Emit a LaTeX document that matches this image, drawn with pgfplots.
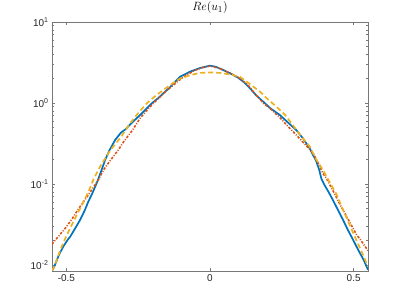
\documentclass[border=0pt]{standalone}
\usepackage{fontspec}
\setmainfont{Liberation Sans}
\usepackage{pgfplots}
\pgfplotsset{compat=1.18}
\definecolor{mblue}{RGB}{0,114,189}
\definecolor{mred}{RGB}{217,83,25}
\definecolor{myellow}{RGB}{237,177,32}
\definecolor{axgray}{RGB}{120,120,120}
\definecolor{txgray}{RGB}{38,38,38}
\begin{document}
\begin{tikzpicture}
\path[use as bounding box] (0,0) rectangle (407bp,305bp);
\begin{axis}[
  at={(52bp,34bp)}, anchor=south west,
  scale only axis, width=316bp, height=249bp,
  ymode=log,
  xmin=-0.55, xmax=0.55, ymin=0.0084, ymax=10,
  xtick={-0.5,0,0.5},
  xticklabels={-0.5,0,0.5},
  ytick={0.01,0.1,1,10},
  yticklabels={10\textsuperscript{-2},10\textsuperscript{-1},10\textsuperscript{0},10\textsuperscript{1}},
  tick label style={font=\fontsize{10}{12}\selectfont, text=txgray},
  axis line style={axgray, line width=0.5bp},
  every tick/.style={axgray, line width=0.5bp},
  major tick length=3bp, minor tick length=1.8bp,
  tick align=inside,
  xtick pos=both, ytick pos=both,
  title={$Re(u_1)$},
  title style={font=\fontsize{13}{15}\selectfont, at={(0.5,1)}, anchor=south, yshift=-1bp},
  clip=true,
]
\addplot[mblue, line width=1.7bp] coordinates {
(-0.55,0.0084) (-0.542,0.0095) (-0.525,0.0135) (-0.51,0.017) (-0.495,0.0205)
(-0.487,0.0222) (-0.47,0.028) (-0.452,0.036) (-0.435,0.048) (-0.424,0.06)
(-0.41,0.076) (-0.40,0.092) (-0.39,0.112) (-0.377,0.15) (-0.365,0.198)
(-0.35,0.26) (-0.33,0.35) (-0.31,0.43) (-0.295,0.47) (-0.27,0.58)
(-0.243,0.71) (-0.22,0.86) (-0.2025,0.99) (-0.18,1.15) (-0.162,1.32)
(-0.14,1.55) (-0.127,1.75) (-0.104,2.11) (-0.069,2.44) (-0.035,2.7)
(0,2.89) (0.02,2.8) (0.046,2.55) (0.069,2.33) (0.098,2.05)
(0.12,1.78) (0.139,1.52) (0.16,1.25) (0.185,1.04) (0.21,0.86)
(0.243,0.71) (0.27,0.58) (0.301,0.46) (0.325,0.36) (0.347,0.275)
(0.37,0.19) (0.38,0.15) (0.388,0.115) (0.40,0.095) (0.415,0.077)
(0.428,0.063) (0.445,0.048) (0.463,0.036) (0.48,0.027) (0.498,0.0204)
(0.515,0.0155) (0.535,0.0115) (0.55,0.0087)
};
\addplot[mred, line width=1.6bp, dash pattern=on 2.5bp off 1.5bp on 1bp off 1.5bp] coordinates {
(-0.55,0.018) (-0.53,0.022) (-0.505,0.028) (-0.48,0.037) (-0.458,0.049)
(-0.435,0.064) (-0.412,0.084) (-0.39,0.11) (-0.37,0.15) (-0.347,0.195)
(-0.32,0.26) (-0.301,0.33) (-0.27,0.46) (-0.243,0.65) (-0.215,0.85)
(-0.185,1.09) (-0.155,1.38) (-0.127,1.67) (-0.1,2.0) (-0.081,2.22)
(-0.05,2.55) (-0.02,2.78) (0,2.85) (0.03,2.7) (0.069,2.35)
(0.1,2.05) (0.13,1.7) (0.155,1.32) (0.185,1.0) (0.215,0.82)
(0.243,0.66) (0.27,0.52) (0.301,0.40) (0.33,0.31) (0.359,0.24)
(0.38,0.17) (0.393,0.135) (0.405,0.118) (0.43,0.08) (0.451,0.057)
(0.48,0.037) (0.509,0.024) (0.53,0.019) (0.55,0.015)
};
\addplot[myellow, line width=1.7bp, dash pattern=on 5bp off 3bp] coordinates {
(-0.55,0.0085) (-0.542,0.0095) (-0.525,0.014) (-0.51,0.019) (-0.49,0.027)
(-0.463,0.042) (-0.44,0.06) (-0.42,0.085) (-0.405,0.115) (-0.38,0.17)
(-0.347,0.26) (-0.31,0.38) (-0.278,0.56) (-0.25,0.75) (-0.22,0.99)
(-0.19,1.22) (-0.162,1.45) (-0.13,1.75) (-0.104,2.0) (-0.07,2.2)
(-0.035,2.35) (0,2.38) (0.035,2.35) (0.07,2.25) (0.104,2.11)
(0.14,1.7) (0.174,1.38) (0.2,1.12) (0.231,0.9) (0.26,0.72)
(0.284,0.56) (0.31,0.42) (0.347,0.29) (0.37,0.2) (0.393,0.149)
(0.42,0.1) (0.44,0.075) (0.463,0.048) (0.49,0.029) (0.509,0.0204)
(0.53,0.014) (0.55,0.0095)
};
\end{axis}
\end{tikzpicture}
\end{document}
